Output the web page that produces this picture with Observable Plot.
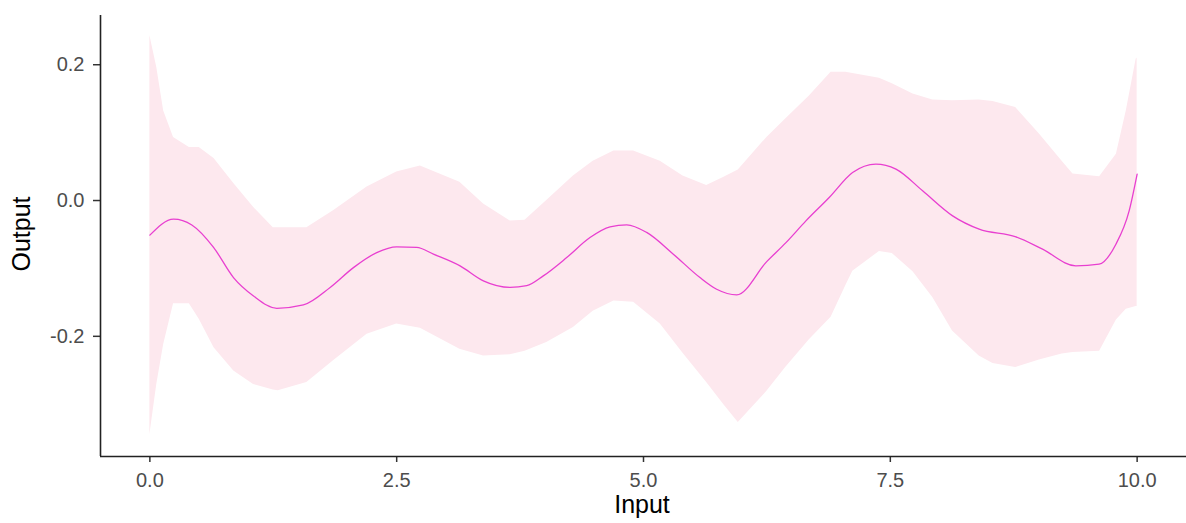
<!DOCTYPE html>
<html>
<head>
<meta charset="utf-8">
<script src="https://cdn.jsdelivr.net/npm/d3@7"></script>
<script src="https://cdn.jsdelivr.net/npm/@observablehq/plot@0.6"></script>
<style>
  html, body { margin: 0; padding: 0; background: #fff; }
  #chart { width: 1186px; height: 523px; }
</style>
</head>
<body>
<div id="chart"></div>
<script>
// Confidence band: x, lower, upper
const bandX  = [0.00, 0.07, 0.14, 0.24, 0.40, 0.50, 0.65, 0.85, 1.05, 1.25, 1.30, 1.59, 1.86, 2.20, 2.50, 2.74, 3.14, 3.38, 3.65, 3.80, 4.02, 4.29, 4.49, 4.70, 4.90, 5.17, 5.40, 5.64, 5.81, 5.96, 6.25, 6.44, 6.68, 6.90, 7.05, 7.12, 7.39, 7.52, 7.73, 7.93, 8.13, 8.40, 8.54, 8.77, 9.01, 9.24, 9.35, 9.62, 9.79, 9.89, 9.99, 10.00];
const bandLo = [-0.345, -0.271, -0.212, -0.152, -0.152, -0.175, -0.217, -0.251, -0.271, -0.279, -0.280, -0.268, -0.236, -0.197, -0.182, -0.188, -0.219, -0.229, -0.227, -0.222, -0.209, -0.187, -0.163, -0.148, -0.150, -0.182, -0.225, -0.268, -0.300, -0.327, -0.281, -0.246, -0.205, -0.172, -0.125, -0.104, -0.075, -0.078, -0.105, -0.143, -0.192, -0.229, -0.240, -0.246, -0.235, -0.226, -0.224, -0.222, -0.176, -0.160, -0.156, -0.156];
const bandHi = [0.243, 0.196, 0.132, 0.093, 0.078, 0.078, 0.062, 0.025, -0.010, -0.040, -0.040, -0.040, -0.015, 0.020, 0.042, 0.051, 0.027, -0.005, -0.030, -0.029, 0.000, 0.036, 0.058, 0.073, 0.073, 0.058, 0.036, 0.022, 0.034, 0.045, 0.093, 0.120, 0.154, 0.189, 0.189, 0.187, 0.180, 0.172, 0.157, 0.148, 0.147, 0.148, 0.146, 0.137, 0.098, 0.058, 0.039, 0.035, 0.068, 0.132, 0.208, 0.210];

// Fitted line
const lineX = [0.00, 0.24, 0.425, 0.645, 0.847, 1.05, 1.286, 1.555, 1.826, 2.062, 2.298, 2.50, 2.703, 2.872, 3.142, 3.378, 3.648, 3.817, 3.985, 4.222, 4.458, 4.661, 4.830, 5.032, 5.302, 5.572, 5.741, 5.944, 6.248, 6.443, 6.645, 6.881, 7.118, 7.354, 7.557, 7.827, 8.131, 8.400, 8.772, 9.042, 9.379, 9.615, 9.785, 9.919, 10.00];
const lineY = [-0.051, -0.0275, -0.036, -0.069, -0.1135, -0.1406, -0.1587, -0.1538, -0.128, -0.0988, -0.0767, -0.0683, -0.069, -0.079, -0.0963, -0.1184, -0.128, -0.1255, -0.111, -0.084, -0.0545, -0.0388, -0.0358, -0.047, -0.079, -0.1135, -0.1307, -0.139, -0.090, -0.062, -0.030, 0.0044, 0.0413, 0.0537, 0.0463, 0.0143, -0.0226, -0.0422, -0.0535, -0.0717, -0.0963, -0.0938, -0.0643, -0.0152, 0.039];

const xTicks = [0, 2.5, 5, 7.5, 10];
const yTicks = [-0.2, 0, 0.2];
const fmt = d => d.toFixed(1);

const band = bandX.map((x, i) => ({x, lo: bandLo[i], hi: bandHi[i]}));
const line = lineX.map((x, i) => ({x, y: lineY[i]}));

const xDomain = [-0.5, 10.5];
const yDomain = [-0.377, 0.2725];

const chart = Plot.plot({
  width: 1186,
  height: 523,
  marginLeft: 100,
  marginRight: 0,
  marginTop: 15,
  marginBottom: 67,
  style: {fontFamily: '"Liberation Sans", Arial, sans-serif', background: "#fff"},
  x: {domain: xDomain},
  y: {domain: yDomain},
  marks: [
    Plot.areaY(band, {x: "x", y1: "lo", y2: "hi", fill: "#fde8ee", curve: "linear"}),
    Plot.line(line, {x: "x", y: "y", stroke: "#e83fd0", strokeWidth: 1.3, curve: "monotone-x"}),
    Plot.axisX({ticks: xTicks, tickFormat: fmt, tickSize: 6, tickPadding: 10,
      stroke: "#333", strokeWidth: 1.5, fill: "#4d4d4d",
      label: null}),
    Plot.axisY({ticks: yTicks, tickFormat: fmt, tickSize: 7, tickPadding: 9,
      stroke: "#333", strokeWidth: 1.5, fill: "#4d4d4d",
      label: null}),
    Plot.ruleX([xDomain[0]], {stroke: "#222", strokeWidth: 1.6}),
    Plot.ruleY([yDomain[0]], {stroke: "#222", strokeWidth: 1.6})
  ]
});

chart.querySelectorAll("text").forEach(t => { t.style.fontSize = "20px"; });

// Axis titles
const ns = "http://www.w3.org/2000/svg";
const xt = document.createElementNS(ns, "text");
xt.textContent = "Input";
xt.setAttribute("x", 642); xt.setAttribute("y", 513);
xt.setAttribute("text-anchor", "middle");
xt.setAttribute("fill", "#000");
xt.style.fontSize = "25px";
chart.appendChild(xt);
const yt = document.createElementNS(ns, "text");
yt.textContent = "Output";
yt.setAttribute("transform", "translate(30,234) rotate(-90)");
yt.setAttribute("text-anchor", "middle");
yt.setAttribute("fill", "#000");
yt.style.fontSize = "25px";
chart.appendChild(yt);

document.getElementById("chart").appendChild(chart);
</script>
</body>
</html>
